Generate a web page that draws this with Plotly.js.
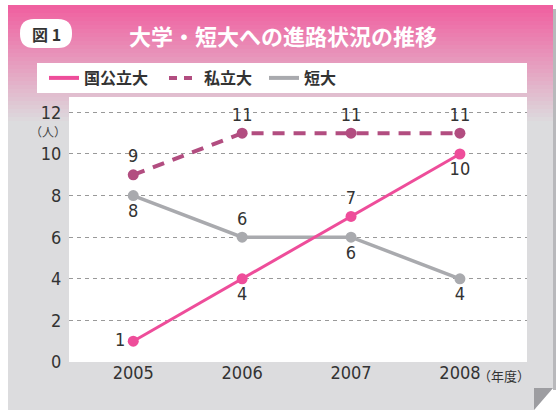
<!DOCTYPE html>
<html>
<head>
<meta charset="utf-8">
<script src="https://cdn.plot.ly/plotly-3.0.1.min.js"></script>
<style>
  html, body { margin: 0; padding: 0; background: #fff; }
  #plot { width: 559px; height: 410px; }
</style>
</head>
<body>
<div id="plot"></div>
<script>
// data
var years = [2005, 2006, 2007, 2008];
var yearLabels = ['2005', '2006', '2007', '2008'];
var kokkoritsu = [1, 4, 7, 10];     // 国公立大
var shiritsu = [9, 11, 11, 11];     // 私立大
var tandai = [8, 6, 6, 4];          // 短大
var kokkoritsuPos = ['middle left', 'bottom center', 'top center', 'bottom center'];
var shiritsuPos = ['top center', 'top center', 'top center', 'top center'];
var tandaiPos = ['bottom center', 'top center', 'bottom center', 'bottom center'];
var yTicks = [0, 2, 4, 6, 8, 10, 12];

var pink = '#ee4d9a';
var plum = '#b24d80';
var grey = '#a9aaae';
var numFont = 'Liberation Sans Narrow, DejaVu Sans Condensed, sans-serif';
var jpFont = 'Noto Sans CJK JP, sans-serif';

// plot area in pixels, used to place the decoration
var L = 69, R = 527, T = 97, B = 362;
function px(x) { return (x - L) / (R - L); }
function py(y) { return (B - y) / (B - T); }

function series(name, vals, pos, color, width, dash) {
  return {
    x: years, y: vals, name: name, type: 'scatter', mode: 'lines+markers+text',
    text: vals.map(String), textposition: pos,
    textfont: {family: numFont, size: 18, color: '#333'},
    line: {color: color, width: width, dash: dash},
    marker: {color: color, size: 11},
    showlegend: false, cliponaxis: false, hoverinfo: 'skip'
  };
}

function legendItem(name, color, dash, legendId) {
  return {
    x: [null], y: [null], name: name, type: 'scatter', mode: 'lines',
    line: {color: color, width: 4, dash: dash}, legend: legendId
  };
}

var data = [
  series('短大', tandai, tandaiPos, grey, 3.5, 'solid'),
  series('私立大', shiritsu, shiritsuPos, plum, 4, '12px,9px'),
  series('国公立大', kokkoritsu, kokkoritsuPos, pink, 3, 'solid'),
  legendItem('国公立大', pink, 'solid', 'legend'),
  legendItem('私立大', plum, '8px,7px', 'legend2'),
  legendItem('短大', grey, 'solid', 'legend3')
];

// background panel, gradient header, white boxes
var shapes = [];
function rectPx(x0, y0, x1, y1, fill) {
  shapes.push({type: 'rect', xref: 'paper', yref: 'paper', layer: 'below',
    x0: px(x0), x1: px(x1), y0: py(y1), y1: py(y0),
    fillcolor: fill, line: {width: 0}});
}
function pathPx(pts, fill) {
  var d = pts.map(function (p, i) {
    return (i ? 'L' : 'M') + px(p[0]) + ',' + py(p[1]);
  }).join(' ') + ' Z';
  shapes.push({type: 'path', xref: 'paper', yref: 'paper', layer: 'below',
    path: d, fillcolor: fill, line: {width: 0}});
}

rectPx(553, 9, 556, 390, '#b8b8bb');
pathPx([[8, 5], [553, 5], [553, 388], [534, 410], [8, 410]], '#dcdcde');
var gradTop = [240, 96, 160], gradBot = [220, 220, 222];
var steps = 30, g0 = 5, g1 = 125;
for (var i = 0; i < steps; i++) {
  var t = i / (steps - 1);
  var c = gradTop.map(function (v, k) { return Math.round(v + (gradBot[k] - v) * t); });
  var a = g0 + (g1 - g0) * i / steps;
  rectPx(8, a, 553, a + (g1 - g0) / steps + 1, 'rgb(' + c.join(',') + ')');
}
pathPx([[534, 388], [553, 388], [534, 410]], '#9d9da1');
rectPx(37, 63, 527, 93, '#ffffff');
rectPx(L, T, R, B, '#ffffff');
shapes.push({type: 'path', xref: 'paper', yref: 'paper', layer: 'below',
  path: (function () {
    var x0 = px(20), x1 = px(72), yb = py(48), yt = py(19);
    var r = 14 / (R - L), ry = 14 / (B - T);
    return 'M' + (x0 + r) + ',' + yt + ' L' + (x1 - r) + ',' + yt +
      ' Q' + x1 + ',' + yt + ' ' + x1 + ',' + (yt - ry) +
      ' L' + x1 + ',' + (yb + ry) + ' Q' + x1 + ',' + yb + ' ' + (x1 - r) + ',' + yb +
      ' L' + (x0 + r) + ',' + yb + ' Q' + x0 + ',' + yb + ' ' + x0 + ',' + (yb + ry) +
      ' L' + x0 + ',' + (yt - ry) + ' Q' + x0 + ',' + yt + ' ' + (x0 + r) + ',' + yt + ' Z';
  })(),
  fillcolor: '#ffffff', line: {width: 0}});

function note(text, x, y, xanchor, font) {
  return {text: text, xref: 'paper', yref: 'paper', x: px(x), y: py(y),
    xanchor: xanchor, yanchor: 'middle', showarrow: false, font: font};
}
var annotations = [
  note('大学・短大への進路状況の推移', 283, 35, 'center',
    {family: jpFont, size: 22, color: '#ffffff', weight: 'bold'}),
  note('図 1', 46, 34, 'center', {family: jpFont, size: 16, color: '#333', weight: 'bold'}),
  note('（人）', 48, 131, 'center', {family: jpFont, size: 12, color: '#444'}),
  note('（年度）', 476, 375, 'left', {family: jpFont, size: 13, color: '#333'})
];

function legendBox(x) {
  return {orientation: 'h', x: px(x), xanchor: 'left', y: py(78), yanchor: 'middle',
    bgcolor: 'rgba(0,0,0,0)',
    font: {family: jpFont, size: 16, color: '#333', weight: 'bold'}};
}

var layout = {
  width: 559, height: 410,
  margin: {l: L, r: 559 - R, t: T, b: 410 - B, pad: 0},
  paper_bgcolor: '#ffffff', plot_bgcolor: 'rgba(0,0,0,0)',
  showlegend: true,
  legend: legendBox(44),
  legend2: legendBox(164),
  legend3: legendBox(264),
  xaxis: {range: [2004.41, 2008.616], tickvals: years, ticktext: yearLabels,
    showgrid: false, zeroline: false, showline: false, ticks: '',
    ticklabelstandoff: -2,
    tickfont: {family: numFont, size: 18, color: '#333'}},
  yaxis: {range: [0, 12.74], tickvals: yTicks, showgrid: true, gridcolor: '#999',
    griddash: '4px,4px', gridwidth: 1, zeroline: false, showline: false,
    ticks: 'outside', ticklen: 3, tickcolor: 'rgba(0,0,0,0)',
    tickfont: {family: numFont, size: 18, color: '#333'}},
  shapes: shapes,
  annotations: annotations
};

Plotly.newPlot('plot', data, layout, {displayModeBar: false, staticPlot: true});
</script>
</body>
</html>
